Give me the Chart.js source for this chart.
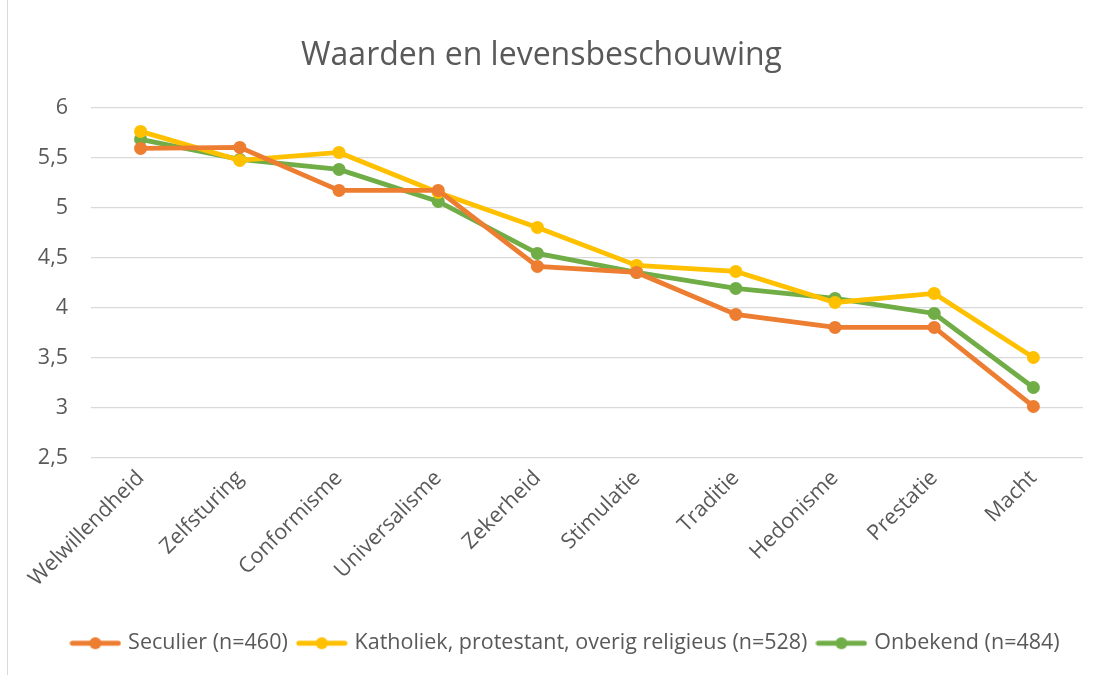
<!DOCTYPE html>
<html>
<head>
<meta charset="utf-8">
<script src="https://cdn.jsdelivr.net/npm/chart.js@4.4.0/dist/chart.umd.min.js"></script>
<style>
  html, body { margin: 0; padding: 0; background: #fff; }
  #wrap { position: relative; width: 1099px; height: 675px; }
  #rand { position: absolute; left: 7px; top: 0; width: 1px; height: 675px; background: #d9d9d9; }
</style>
</head>
<body>
<div id="wrap">
  <div id="rand"></div>
  <canvas id="waardenChart" width="1099" height="675"></canvas>
</div>
<script>
// Waarden per levensbeschouwing (gemiddelde scores)
const waarden = ['Welwillendheid', 'Zelfsturing', 'Conformisme', 'Universalisme', 'Zekerheid',
    'Stimulatie', 'Traditie', 'Hedonisme', 'Prestatie', 'Macht'];

const seculier = [5.59, 5.60, 5.17, 5.17, 4.41, 4.35, 3.93, 3.80, 3.80, 3.01];
const religieus = [5.76, 5.47, 5.55, 5.15, 4.80, 4.42, 4.36, 4.05, 4.14, 3.50];
const onbekend = [5.68, 5.48, 5.38, 5.06, 4.54, 4.35, 4.19, 4.09, 3.94, 3.20];

const reeksNamen = ['Seculier (n=460)', 'Katholiek, protestant, overig religieus (n=528)', 'Onbekend (n=484)'];
const kleuren = ['#ED7D31', '#FFC000', '#70AD47'];

const fontFam = "'Open Sans', 'Noto Sans', sans-serif";
const grijs = '#595959';

// legenda-icoon: lijntje met bolletje
function maakIcoon(kleur) {
    const c = document.createElement('canvas');
    c.width = 52;
    c.height = 14;
    const ctx = c.getContext('2d');
    ctx.strokeStyle = kleur;
    ctx.lineWidth = 5;
    ctx.lineCap = 'round';
    ctx.beginPath();
    ctx.moveTo(3, 7);
    ctx.lineTo(49, 7);
    ctx.stroke();
    ctx.fillStyle = kleur;
    ctx.beginPath();
    ctx.arc(26, 7, 6, 0, Math.PI * 2);
    ctx.fill();
    return c;
}

const reeksen = [seculier, religieus, onbekend].map((data, i) => ({
    label: reeksNamen[i],
    data: data,
    borderColor: kleuren[i],
    backgroundColor: kleuren[i],
    borderWidth: 4.8,
    pointRadius: 6.5,
    pointHoverRadius: 6.5,
    pointBorderWidth: 0,
    tension: 0,
    fill: false
}));

const iconen = kleuren.map(maakIcoon);

// legenda iets naar rechts schuiven, zoals in Excel
const legendaSchuif = {
    id: 'legendaSchuif',
    afterLayout(chart) {
        chart.legend.left += 25;
        chart.legend.right += 25;
    }
};

new Chart(document.getElementById('waardenChart'), {
    type: 'line',
    data: {
        labels: waarden,
        datasets: reeksen
    },
    plugins: [legendaSchuif],
    options: {
        responsive: false,
        animation: false,
        layout: { padding: { left: 0, right: 16, top: 0, bottom: 11 } },
        plugins: {
            title: {
                display: true,
                text: 'Waarden en levensbeschouwing',
                color: grijs,
                font: { family: fontFam, size: 32, weight: 'normal' },
                padding: { top: 37, bottom: 32 }
            },
            legend: {
                position: 'bottom',
                labels: {
                    color: grijs,
                    font: { family: fontFam, size: 21.5 },
                    usePointStyle: true,
                    pointStyleWidth: 44,
                    boxHeight: 14,
                    padding: 12,
                    generateLabels: chart => chart.data.datasets.map((ds, i) => ({
                        text: ds.label,
                        pointStyle: iconen[i],
                        fillStyle: ds.borderColor,
                        strokeStyle: ds.borderColor,
                        lineWidth: 0,
                        fontColor: grijs,
                        datasetIndex: i,
                        hidden: false
                    }))
                }
            },
            tooltip: { enabled: false }
        },
        scales: {
            x: {
                offset: true,
                afterFit: scale => { scale.height = 163; },
                grid: { display: false, drawTicks: false },
                border: { display: false },
                ticks: {
                    color: grijs,
                    font: { family: fontFam, size: 21.5 },
                    maxRotation: 45,
                    minRotation: 45,
                    padding: 8
                }
            },
            y: {
                min: 2.5,
                max: 6,
                afterFit: scale => { scale.width = 91; },
                grid: { color: '#d9d9d9', lineWidth: 1.3, drawTicks: false },
                border: { display: false },
                ticks: {
                    stepSize: 0.5,
                    color: grijs,
                    font: { family: fontFam, size: 21.5 },
                    padding: 23,
                    callback: v => v.toString().replace('.', ',')
                }
            }
        }
    }
});
</script>
</body>
</html>
